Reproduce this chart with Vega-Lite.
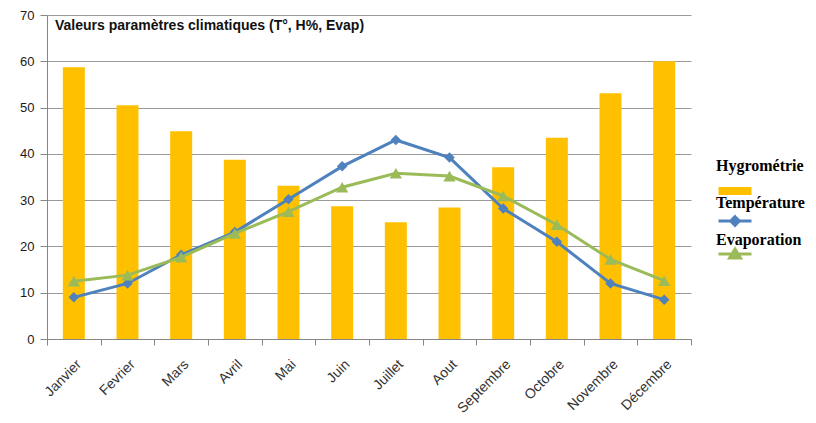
{
  "$schema": "https://vega.github.io/schema/vega-lite/v6.json",
  "width": 644,
  "height": 324,
  "autosize": "none",
  "padding": {"left": 47, "top": 15, "right": 125, "bottom": 84},
  "background": "white",
  "config": {
    "view": {"stroke": null},
    "font": "Liberation Sans",
    "axisY": {"domainColor": "#868686", "gridColor": "#9a9a9a", "tickColor": "#868686", "tickSize": 7, "labelFontSize": 13, "labelColor": "#1a1a1a", "labelPadding": 6, "labelFont": "Liberation Sans"}
  },
  "title": {"text": "Valeurs paramètres climatiques (T°, H%, Evap)", "anchor": "start", "frame": "group", "dx": 8, "offset": -31, "baseline": "middle", "fontSize": 14, "fontWeight": "bold", "font": "Liberation Sans", "color": "#111"},
  "data": {"values": [
    {"mois": "Janvier", "hygro": 58.7, "temp": 9.0, "evap": 12.5},
    {"mois": "Fevrier", "hygro": 50.5, "temp": 12.0, "evap": 13.8},
    {"mois": "Mars", "hygro": 44.9, "temp": 18.2, "evap": 17.7},
    {"mois": "Avril", "hygro": 38.7, "temp": 23.1, "evap": 22.8},
    {"mois": "Mai", "hygro": 33.1, "temp": 30.2, "evap": 27.5},
    {"mois": "Juin", "hygro": 28.7, "temp": 37.3, "evap": 32.8},
    {"mois": "Juillet", "hygro": 25.2, "temp": 43.0, "evap": 35.8},
    {"mois": "Aout", "hygro": 28.4, "temp": 39.2, "evap": 35.2},
    {"mois": "Septembre", "hygro": 37.1, "temp": 28.2, "evap": 30.9},
    {"mois": "Octobre", "hygro": 43.5, "temp": 21.0, "evap": 24.7},
    {"mois": "Novembre", "hygro": 53.1, "temp": 12.0, "evap": 17.2},
    {"mois": "Décembre", "hygro": 60.0, "temp": 8.5, "evap": 12.6}
  ]},
  "encoding": {
    "x": {"field": "mois", "type": "nominal", "sort": null,
      "scale": {"paddingInner": 0, "paddingOuter": 0},
      "axis": {"title": null, "labelAngle": -45, "labelFontSize": 14, "labelColor": "#333", "labelFont": "Liberation Sans", "domainColor": "#868686", "tickColor": "#868686", "tickSize": 6, "tickBand": "extent", "labelPadding": 12, "grid": false}}
  },
  "layer": [
    {
      "mark": {"type": "bar", "width": {"band": 0.41}},
      "encoding": {
        "y": {"field": "hygro", "type": "quantitative", "scale": {"domain": [0, 70]}, "axis": {"title": null, "values": [0, 10, 20, 30, 40, 50, 60, 70]}},
        "color": {"datum": "Hygrométrie", "type": "nominal",
          "scale": {"domain": ["Hygrométrie", "Température", "Evaporation"], "range": ["#FFC000", "#4F81BD", "#9BBB59"]},
          "legend": {"title": null, "orient": "none", "legendX": 680, "legendY": 168, "symbolSize": 1089, "symbolStrokeWidth": 3, "labelFont": "Liberation Serif", "labelFontWeight": "bold", "labelFontSize": 16, "labelColor": "#000", "labelOffset": -33, "rowPadding": 0,
            "encode": {
              "symbols": {"update": {
                "shape": {"signal": "datum.value === 'Hygrométrie' ? 'M-1,-0.24H1V0.24H-1Z' : datum.value === 'Température' ? 'M-1,0H1M0,-0.26L0.26,0L0,0.26L-0.26,0Z' : 'M-1,0H1M-0.33,0.24L0,-0.3L0.33,0.24Z'"},
                "fill": {"signal": "datum.value === 'Hygrométrie' ? '#FFC000' : datum.value === 'Température' ? '#4F81BD' : '#9BBB59'"},
                "stroke": {"signal": "datum.value === 'Hygrométrie' ? '#FFC000' : datum.value === 'Température' ? '#4F81BD' : '#9BBB59'"},
                "strokeWidth": {"signal": "datum.value === 'Hygrométrie' ? 0 : 3"},
                "opacity": {"value": 1}
              }},
              "labels": {"update": {
                "dx": {"value": 6},
                "dy": {"signal": "datum.value === 'Hygrométrie' ? -25 : datum.value === 'Température' ? -18 : -14"}
              }}
            }}
        }
      }
    },
    {
      "mark": {"type": "line", "strokeWidth": 3, "point": {"shape": "diamond", "size": 110, "filled": true, "opacity": 1}},
      "encoding": {
        "y": {"field": "temp", "type": "quantitative", "axis": {"title": null, "values": [0, 10, 20, 30, 40, 50, 60, 70]}},
        "color": {"datum": "Température", "type": "nominal"}
      }
    },
    {
      "mark": {"type": "line", "strokeWidth": 3, "point": {"shape": "triangle-up", "size": 150, "filled": true, "opacity": 1}},
      "encoding": {
        "y": {"field": "evap", "type": "quantitative", "axis": {"title": null, "values": [0, 10, 20, 30, 40, 50, 60, 70]}},
        "color": {"datum": "Evaporation", "type": "nominal"}
      }
    }
  ]
}
